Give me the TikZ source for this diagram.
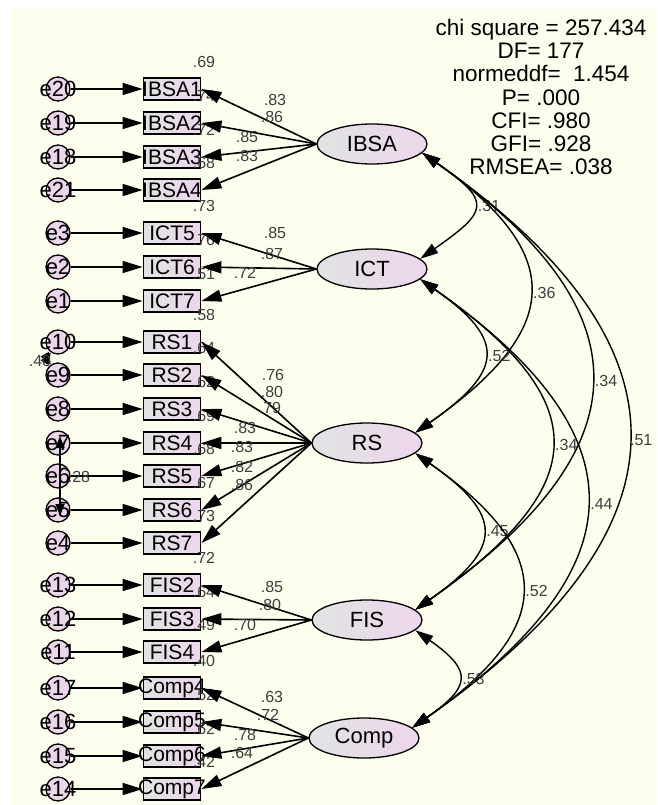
\documentclass[tikz,border=0pt]{standalone}
\usepackage{fontspec}
\setmainfont{Liberation Sans}
\usepackage{tikz}
\usetikzlibrary{shapes.geometric, arrows.meta, positioning}
\definecolor{bgcream}{RGB}{253, 254, 238}
\definecolor{fadegray}{RGB}{224, 227, 227}
\definecolor{fadepink}{RGB}{238, 214, 236}
\definecolor{errpink}{RGB}{236, 214, 234}
\definecolor{coefgray}{RGB}{62, 62, 62}
\newcommand{\obsname}[1]{\makebox[0pt]{#1}}
\tikzset{
  latent/.style={draw, ellipse, line width=1.3pt, left color=fadegray, right color=fadepink, minimum width=110pt, minimum height=40pt, inner sep=0pt, font=\fontsize{22}{22}\selectfont},
  indic/.style={draw, rectangle, line width=1.8pt, left color=fadegray, right color=fadepink, minimum width=57pt, minimum height=22pt, inner sep=0pt, font=\fontsize{21}{21}\selectfont},
  errc/.style={draw, circle, line width=1.3pt, fill=errpink, minimum size=24pt, inner sep=0pt, label={[errlab]center:#1}},
  errlab/.style={font=\fontsize{22}{22}\selectfont, inner sep=0pt},
  coef/.style={font=\fontsize{16}{16}\selectfont, text=coefgray, inner sep=1pt},
  rsq/.style={coef, xshift=32pt, yshift=8pt},
  errarrow/.style={-{Triangle[length=20pt, width=12pt]}, line width=1.3pt},
  loadarrow/.style={-{Triangle[length=20pt, width=12pt]}, line width=1.6pt},
  covarc/.style={{Triangle[length=18pt, width=11pt]}-{Triangle[length=18pt, width=11pt]}, line width=1.4pt, out=-35, in=35, looseness=#1},
  errcov/.style={{Triangle[length=12pt, width=9pt]}-{Triangle[length=12pt, width=9pt]}, line width=1.6pt},
  stats/.style={align=center, inner sep=0pt, font=\fontsize{22.5}{23.3}\selectfont}
}

\begin{document}
\begin{tikzpicture}[x=1pt, y=-1pt]
    \fill[bgcream] (12,8) rectangle (657,805);
    \useasboundingbox (0,0) rectangle (657,805);

    % fit indices
    \node[stats] (fit) at (541,97) {chi square = 257.434\\DF= 177\\normeddf= \ 1.454\\P= .000\\CFI= .980\\GFI= .928\\RMSEA= .038};

    % latent variables
    \node[latent] (ibsa) at (372,144) {IBSA};
    \node[latent] (ict) at (372,269) {ICT};
    \node[latent] (rs) at (367,443) {RS};
    \node[latent] (fis) at (367,620) {FIS};
    \node[latent] (comp) at (364,738) {Comp};

    % observed variables with R^2
    \node[indic, label={[rsq]north:.69}] (bsa1) at (172,89) {\obsname{IBSA1}};
    \node[indic, label={[rsq]north:.74}] (bsa2) at (172,123) {\obsname{IBSA2}};
    \node[indic, label={[rsq]north:.72}] (bsa3) at (172,157) {\obsname{IBSA3}};
    \node[indic, label={[rsq]north:.68}] (bsa4) at (172,190) {\obsname{IBSA4}};
    \node[indic, label={[rsq]north:.73}] (ict5) at (172,233) {\obsname{ICT5}};
    \node[indic, label={[rsq]north:.76}] (ict6) at (172,267) {\obsname{ICT6}};
    \node[indic, label={[rsq]north:.51}] (ict7) at (172,301) {\obsname{ICT7}};
    \node[indic, label={[rsq]north:.58}] (rs1) at (172,342) {\obsname{RS1}};
    \node[indic, label={[rsq]north:.64}] (rs2) at (172,375) {\obsname{RS2}};
    \node[indic, label={[rsq]north:.62}] (rs3) at (172,409) {\obsname{RS3}};
    \node[indic, label={[rsq]north:.69}] (rs4) at (172,443) {\obsname{RS4}};
    \node[indic, label={[rsq]north:.68}] (rs5) at (172,476) {\obsname{RS5}};
    \node[indic, label={[rsq]north:.67}] (rs6) at (172,510) {\obsname{RS6}};
    \node[indic, label={[rsq]north:.73}] (rs7) at (172,543) {\obsname{RS7}};
    \node[indic, label={[rsq]north:.72}] (fis2) at (172,585) {\obsname{FIS2}};
    \node[indic, label={[rsq]north:.64}] (fis3) at (172,619) {\obsname{FIS3}};
    \node[indic, label={[rsq]north:.49}] (fis4) at (172,652) {\obsname{FIS4}};
    \node[indic, label={[rsq]north:.40}] (comp4) at (172,688) {\obsname{Comp4}};
    \node[indic, label={[rsq]north:.52}] (comp5) at (172,722) {\obsname{Comp5}};
    \node[indic, label={[rsq]north:.62}] (comp6) at (172,756) {\obsname{Comp6}};
    \node[indic, label={[rsq]north:.42}] (comp7) at (172,789) {\obsname{Comp7}};

    % error terms
    \node[errc=e20] (e20) at (58,89) {};
    \node[errc=e19] (e19) at (58,123) {};
    \node[errc=e18] (e18) at (58,157) {};
    \node[errc=e21] (e21) at (58,190) {};
    \node[errc=e3] (e3) at (58,233) {};
    \node[errc=e2] (e2) at (58,267) {};
    \node[errc=e1] (e1) at (58,301) {};
    \node[errc=e10] (e10) at (58,342) {};
    \node[errc=e9] (e9) at (58,375) {};
    \node[errc=e8] (e8) at (58,409) {};
    \node[errc=e7] (e7) at (58,443) {};
    \node[errc=e6] (e6) at (58,476) {};
    \node[errc=e5] (e5) at (58,510) {};
    \node[errc=e4] (e4) at (58,543) {};
    \node[errc=e13] (e13) at (58,585) {};
    \node[errc=e12] (e12) at (58,619) {};
    \node[errc=e11] (e11) at (58,652) {};
    \node[errc=e17] (e17) at (58,688) {};
    \node[errc=e16] (e16) at (58,722) {};
    \node[errc=e15] (e15) at (58,756) {};
    \node[errc=e14] (e14) at (58,789) {};

    % error paths
    \draw[errarrow] (e20) -- (bsa1);
    \draw[errarrow] (e19) -- (bsa2);
    \draw[errarrow] (e18) -- (bsa3);
    \draw[errarrow] (e21) -- (bsa4);
    \draw[errarrow] (e3) -- (ict5);
    \draw[errarrow] (e2) -- (ict6);
    \draw[errarrow] (e1) -- (ict7);
    \draw[errarrow] (e10) -- (rs1);
    \draw[errarrow] (e9) -- (rs2);
    \draw[errarrow] (e8) -- (rs3);
    \draw[errarrow] (e7) -- (rs4);
    \draw[errarrow] (e6) -- (rs5);
    \draw[errarrow] (e5) -- (rs6);
    \draw[errarrow] (e4) -- (rs7);
    \draw[errarrow] (e13) -- (fis2);
    \draw[errarrow] (e12) -- (fis3);
    \draw[errarrow] (e11) -- (fis4);
    \draw[errarrow] (e17) -- (comp4);
    \draw[errarrow] (e16) -- (comp5);
    \draw[errarrow] (e15) -- (comp6);
    \draw[errarrow] (e14) -- (comp7);

    % error covariances
    \draw[errcov] (e10.235) to[bend right=30] (e9.125);
    \node[coef] (ce109) at (40,361) {.40};
    \draw[errcov] ([xshift=2pt, yshift=7pt]e7.center) -- ([xshift=2pt, yshift=-6pt]e5.center);
    \node[coef] (ce75) at (79,477) {.28};

    % loadings
    \draw[loadarrow] (ibsa.west) -- (bsa1.east);
    \draw[loadarrow] (ibsa.west) -- (bsa2.east);
    \draw[loadarrow] (ibsa.west) -- (bsa3.east);
    \draw[loadarrow] (ibsa.west) -- (bsa4.east);
    \draw[loadarrow] (ict.west) -- (ict5.east);
    \draw[loadarrow] (ict.west) -- (ict6.east);
    \draw[loadarrow] (ict.west) -- (ict7.east);
    \draw[loadarrow] (rs.west) -- (rs1.east);
    \draw[loadarrow] (rs.west) -- (rs2.east);
    \draw[loadarrow] (rs.west) -- (rs3.east);
    \draw[loadarrow] (rs.west) -- (rs4.east);
    \draw[loadarrow] (rs.west) -- (rs5.east);
    \draw[loadarrow] (rs.west) -- (rs6.east);
    \draw[loadarrow] (rs.west) -- (rs7.east);
    \draw[loadarrow] (fis.west) -- (fis2.east);
    \draw[loadarrow] (fis.west) -- (fis3.east);
    \draw[loadarrow] (fis.west) -- (fis4.east);
    \draw[loadarrow] (comp.west) -- (comp4.east);
    \draw[loadarrow] (comp.west) -- (comp5.east);
    \draw[loadarrow] (comp.west) -- (comp6.east);
    \draw[loadarrow] (comp.west) -- (comp7.east);

    \node[coef] (lb1) at (275,100) {.83};
    \node[coef] (lb2) at (272,117) {.86};
    \node[coef] (lb3) at (247,137) {.85};
    \node[coef] (lb4) at (247,156) {.83};
    \node[coef] (li5) at (275,233) {.85};
    \node[coef] (li6) at (272,254) {.87};
    \node[coef] (li7) at (245,273) {.72};
    \node[coef] (lr1) at (273,375) {.76};
    \node[coef] (lr2) at (272,392) {.80};
    \node[coef] (lr3) at (270,408) {.79};
    \node[coef] (lr4) at (245,428) {.83};
    \node[coef] (lr5) at (242,447) {.83};
    \node[coef] (lr6) at (242,467) {.82};
    \node[coef] (lr7) at (242,485) {.86};
    \node[coef] (lf2) at (272,587) {.85};
    \node[coef] (lf3) at (270,605) {.80};
    \node[coef] (lf4) at (245,625) {.70};
    \node[coef] (lc4) at (272,697) {.63};
    \node[coef] (lc5) at (268,715) {.72};
    \node[coef] (lc6) at (245,735) {.78};
    \node[coef] (lc7) at (242,753) {.64};

    % factor covariances
    \draw[covarc=2.04] (ibsa.-10) to node[coef, right=3pt] (cv1) {.31} (ict.12);
    \draw[covarc=1.63] (ibsa.-10) to node[coef, right=3pt] (cv2) {.36} (rs.12);
    \draw[covarc=1.56] (ibsa.-10) to node[coef, right=3pt] (cv3) {.34} (fis.12);
    \draw[covarc=1.52] (ibsa.-10) to node[coef, right=1pt] (cv4) {.51} (comp.12);
    \draw[covarc=1.78] (ict.-12) to node[coef, right=3pt] (cv5) {.52} (rs.12);
    \draw[covarc=1.67] (ict.-12) to node[coef, right=3pt] (cv6) {.34} (fis.12);
    \draw[covarc=1.57] (ict.-12) to node[coef, right=3pt] (cv7) {.44} (comp.12);
    \draw[covarc=1.77] (rs.-12) to node[coef, right=3pt] (cv8) {.45} (fis.12);
    \draw[covarc=1.62] (rs.-12) to node[coef, right=3pt] (cv9) {.52} (comp.12);
    \draw[covarc=1.87] (fis.-12) to node[coef, right=3pt] (cv10) {.53} (comp.12);
\end{tikzpicture}
\end{document}
